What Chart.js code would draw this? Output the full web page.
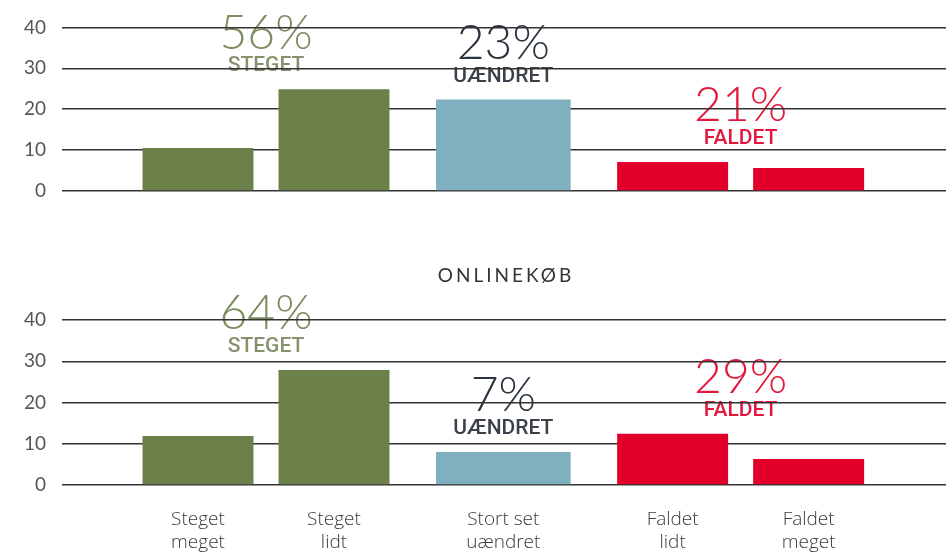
<!DOCTYPE html>
<html>
<head>
<meta charset="utf-8">
<script src="https://cdn.jsdelivr.net/npm/chart.js@4.4.0/dist/chart.umd.min.js"></script>
<style>
    html, body { margin: 0; padding: 0; background: #fff; }
    .box { position: absolute; left: 0; width: 946px; }
</style>
</head>
<body>
<div class="box" style="top:0;height:230px"><canvas id="chartTop"></canvas></div>
<div class="box" style="top:230px;height:323px"><canvas id="chartOnline"></canvas></div>
<script>
// data
const categories = ['Steget meget', 'Steget lidt', 'Stort set uændret', 'Faldet lidt', 'Faldet meget'];
const categoryGroup = [0, 0, 1, 2, 2];
const groupNames = ['STEGET', 'UÆNDRET', 'FALDET'];
const topValues = [10.5, 24.9, 22.4, 7.1, 5.6];
const topShares = [56, 23, 21];
const onlineTitle = 'ONLINEKØB';
const onlineValues = [11.9, 27.9, 8.0, 12.4, 6.3];
const onlineShares = [64, 7, 29];
const yTicks = [0, 10, 20, 30, 40];

const barColors = ['#6b8149', '#7fb0bf', '#e2002a'];
const shareColors = ['#7c8c5e', '#2b3240', '#e2173c'];
const labelColors = ['#86926c', '#3a414b', '#e3173e'];

// groups sit a bit further apart than bars inside a group
const xPos = categories.map((c, i) => i + 0.245 * categoryGroup[i]);

const sharesPlugin = {
    id: 'shares',
    beforeDraw(chart, args, opts) {
        const ctx = chart.ctx;
        ctx.save();
        ctx.textAlign = 'center';
        ctx.textBaseline = 'middle';
        groupNames.forEach((name, g) => {
            let xs = [];
            let tops = [];
            chart.data.datasets.forEach((ds, d) => {
                const meta = chart.getDatasetMeta(d);
                ds.data.forEach((pt, i) => {
                    if (pt.y == null || categoryGroup[i] !== g) return;
                    xs.push(meta.data[i].x);
                    tops.push(meta.data[i].y);
                });
            });
            const x = (Math.min(...xs) + Math.max(...xs)) / 2;
            const top = Math.min(...tops);
            ctx.fillStyle = shareColors[g];
            ctx.font = '300 48px Lato';
            ctx.fillText(opts.shares[g] + '%', x, top - 56);
            ctx.fillStyle = labelColors[g];
            ctx.font = '500 21px Roboto';
            ctx.fillText(name, x, top - 23);
        });
        // panel title, spaced out like the original
        if (opts.title) {
            const area = chart.chartArea;
            ctx.fillStyle = '#333';
            ctx.font = '400 19px Lato';
            ctx.letterSpacing = '3px';
            ctx.fillText(opts.title, (area.left + area.right) / 2 + 2, 46);
        }
        ctx.restore();
    }
};

function makeConfig(values, shares, withAxis) {
    const narrow = categories.map((c, i) => ({ x: xPos[i], y: categoryGroup[i] === 1 ? null : values[i] }));
    const wide = categories.map((c, i) => ({ x: xPos[i], y: categoryGroup[i] === 1 ? values[i] : null }));
    const colors = categories.map((c, i) => barColors[categoryGroup[i]]);
    return {
        type: 'bar',
        data: {
            datasets: [
                { data: narrow, backgroundColor: colors, barPercentage: 0.816, categoryPercentage: 1, grouped: false },
                { data: wide, backgroundColor: colors, barPercentage: 0.99, categoryPercentage: 1, grouped: false },
            ]
        },
        options: {
            responsive: true,
            maintainAspectRatio: false,
            animation: false,
            layout: {
                padding: withAxis ? { left: 0, right: 0, top: 90, bottom: 0 } : { left: 0, right: 0, top: 27, bottom: 39 }
            },
            plugins: {
                legend: { display: false },
                tooltip: { enabled: false },
                title: { display: false },
                shares: { shares: shares, title: withAxis ? onlineTitle : null }
            },
            scales: {
                x: {
                    type: 'linear',
                    display: withAxis,
                    offset: false,
                    min: -1,
                    max: 5.5,
                    afterBuildTicks: axis => { axis.ticks = xPos.map(v => ({ value: v })); },
                    afterFit: axis => { axis.height = withAxis ? 68 : 0; },
                    grid: { display: false, drawTicks: false },
                    border: { display: false },
                    ticks: {
                        autoSkip: false,
                        maxRotation: 0,
                        padding: 23,
                        color: '#3a3a3a',
                        font: { family: 'Open Sans', size: 19, weight: 300, lineHeight: 1.2 },
                        callback: (v, i) => {
                            const words = categories[i].split(' ');
                            if (words.length > 2) return [words.slice(0, 2).join(' '), words[2]];
                            return words;
                        }
                    }
                },
                y: {
                    min: 0,
                    max: 40,
                    afterBuildTicks: axis => { axis.ticks = yTicks.map(v => ({ value: v })); },
                    afterFit: axis => { axis.width = 62; },
                    border: { display: false },
                    grid: { color: '#333', lineWidth: 1.5, drawTicks: false },
                    ticks: {
                        padding: 16,
                        color: '#555',
                        font: { family: 'Lato', size: 19, weight: 400 }
                    }
                }
            }
        },
        plugins: [sharesPlugin]
    };
}

new Chart(document.getElementById('chartTop'), makeConfig(topValues, topShares, false));
new Chart(document.getElementById('chartOnline'), makeConfig(onlineValues, onlineShares, true));
</script>
</body>
</html>
